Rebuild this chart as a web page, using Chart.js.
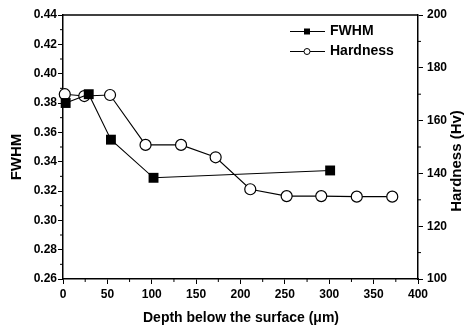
<!DOCTYPE html>
<html><head><meta charset="utf-8">
<script src="https://cdn.jsdelivr.net/npm/chart.js@4.4.1/dist/chart.umd.min.js"></script>
<style>html,body{margin:0;padding:0;background:#fff}#wrap{width:469px;height:329px;position:relative}</style>
</head><body><div id="wrap"><canvas id="c"></canvas></div>
<script>
const fwhmDepth = [3, 29, 54, 102, 301];
const fwhmValues = [0.380, 0.386, 0.355, 0.329, 0.334];
const hardDepth = [2, 24, 53, 93, 133, 172, 211, 252, 291, 331, 371];
const hardValues = [170, 169.3, 169.7, 150.8, 150.8, 146.1, 134, 131.4, 131.4, 131.2, 131.2];
const xTitle = 'Depth below the surface (\u03bcm)';
const yTitle = 'FWHM';
const y2Title = 'Hardness (Hv)';
const seriesNames = ['FWHM', 'Hardness'];

const FONT = '"Liberation Sans", Arial, sans-serif';

const decor = {
  id: 'decor',
  afterDraw(chart) {
    const ctx = chart.ctx, a = chart.chartArea;
    const sx = chart.scales.x, sy = chart.scales.y, sy2 = chart.scales.y2;
    ctx.save();
    ctx.strokeStyle = '#000';
    ctx.lineWidth = 1.5;
    ctx.beginPath();
    ctx.moveTo(a.left, a.top); ctx.lineTo(a.right, a.top);
    ctx.stroke();
    // minor ticks
    ctx.lineWidth = 1;
    ctx.beginPath();
    for (let v = 25; v < 400; v += 50) { const p = sx.getPixelForValue(v); ctx.moveTo(p, a.bottom); ctx.lineTo(p, a.bottom + 3); }
    for (let v = 0.27; v < 0.44; v += 0.02) { const p = sy.getPixelForValue(v); ctx.moveTo(a.left, p); ctx.lineTo(a.left - 3, p); }
    for (let v = 110; v < 200; v += 20) { const p = sy2.getPixelForValue(v); ctx.moveTo(a.right, p); ctx.lineTo(a.right + 3, p); }
    ctx.stroke();
    // titles
    ctx.fillStyle = '#000';
    ctx.font = 'bold 14px ' + FONT;
    ctx.textAlign = 'center'; ctx.textBaseline = 'middle';
    ctx.fillText(xTitle, 241, 318);
    ctx.font = 'bold 15px ' + FONT;
    ctx.save(); ctx.translate(17, 157); ctx.rotate(-Math.PI / 2); ctx.fillText(yTitle, 0, 0); ctx.restore();
    ctx.save(); ctx.translate(457, 161); ctx.rotate(-Math.PI / 2); ctx.fillText(y2Title, 0, 0); ctx.restore();
    // legend
    const rows = [31.5, 51.5];
    ctx.font = 'bold 14px ' + FONT;
    ctx.textAlign = 'left';
    rows.forEach((y, i) => {
      ctx.lineWidth = 1;
      ctx.beginPath(); ctx.moveTo(290, y); ctx.lineTo(325, y); ctx.stroke();
      if (i === 0) { ctx.fillRect(304, y - 3, 6, 6); }
      else { ctx.beginPath(); ctx.arc(307, y, 3, 0, Math.PI * 2); ctx.fillStyle = '#fff'; ctx.fill(); ctx.stroke(); ctx.fillStyle = '#000'; }
      ctx.fillText(seriesNames[i], 330, y);
    });
    ctx.restore();
  }
};

new Chart(document.getElementById('c'), {
  type: 'scatter',
  data: {
    datasets: [
      {
        label: seriesNames[0],
        data: fwhmDepth.map((d, i) => ({ x: d, y: fwhmValues[i] })),
        yAxisID: 'y', showLine: true, borderColor: '#000', borderWidth: 1.1,
        pointStyle: 'rect', pointRadius: 7, pointBackgroundColor: '#000', pointBorderColor: '#000', pointBorderWidth: 0,
        clip: false
      },
      {
        label: seriesNames[1],
        data: hardDepth.map((d, i) => ({ x: d, y: hardValues[i] })),
        yAxisID: 'y2', showLine: true, borderColor: '#000', borderWidth: 1.1,
        pointStyle: 'circle', pointRadius: 5.5, pointBackgroundColor: '#fff', pointBorderColor: '#000', pointBorderWidth: 1.2,
        clip: false
      }
    ]
  },
  options: {
    responsive: true, maintainAspectRatio: false, animation: false,
    layout: { padding: { top: 15, left: 0, right: 0, bottom: 0 } },
    plugins: { legend: { display: false }, tooltip: { enabled: false } },
    scales: {
      x: {
        type: 'linear', min: 0, max: 400,
        ticks: { stepSize: 50, color: '#000', font: { family: FONT, size: 12, weight: 'bold' }, padding: 3, maxRotation: 0 },
        grid: { drawOnChartArea: false, tickLength: 5, color: '#000' },
        border: { color: '#000', width: 1.5 },
        afterFit(s) { s.height = 50; }
      },
      y: {
        position: 'left', min: 0.26, max: 0.44,
        ticks: { stepSize: 0.02, color: '#000', font: { family: FONT, size: 12, weight: 'bold' }, padding: 1, callback: v => v.toFixed(2) },
        grid: { drawOnChartArea: false, tickLength: 5, color: '#000' },
        border: { color: '#000', width: 1.5 },
        afterFit(s) { s.width = 63; }
      },
      y2: {
        position: 'right', min: 100, max: 200,
        ticks: { stepSize: 20, color: '#000', font: { family: FONT, size: 12, weight: 'bold' }, padding: 4 },
        grid: { drawOnChartArea: false, tickLength: 5, color: '#000' },
        border: { color: '#000', width: 1.5 },
        afterFit(s) { s.width = 51; }
      }
    }
  },
  plugins: [decor]
});
</script>
</body></html>
